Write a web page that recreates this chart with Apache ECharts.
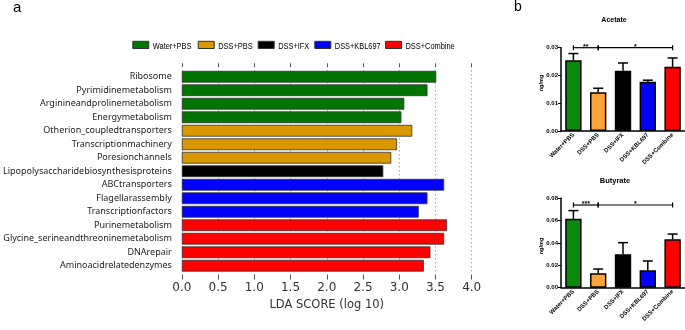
<!DOCTYPE html>
<html>
<head>
<meta charset="utf-8">
<script src="https://cdn.jsdelivr.net/npm/echarts@6/dist/echarts.min.js"></script>
<style>html,body{margin:0;padding:0;background:#fff}#c{width:685px;height:330px}</style>
</head>
<body>
<div id="c"></div>
<script>
// ---------- Panel a data ----------
const features = ['Ribosome','Pyrimidinemetabolism','Arginineandprolinemetabolism','Energymetabolism',
  'Otherion_coupledtransporters','Transcriptionmachinery','Poresionchannels',
  'Lipopolysaccharidebiosynthesisproteins','ABCtransporters','Flagellarassembly','Transcriptionfactors',
  'Purinemetabolism','Glycine_serineandthreoninemetabolism','DNArepair','Aminoacidrelatedenzymes'];
const ldaScores = [3.51, 3.39, 3.07, 3.03, 3.18, 2.97, 2.89, 2.78, 3.62, 3.39, 3.27, 3.66, 3.62, 3.43, 3.34];
const featureGroup = ['Water+PBS','Water+PBS','Water+PBS','Water+PBS','DSS+PBS','DSS+PBS','DSS+PBS',
  'DSS+IFX','DSS+KBL697','DSS+KBL697','DSS+KBL697','DSS+Combine','DSS+Combine','DSS+Combine','DSS+Combine'];
const groupNames = ['Water+PBS','DSS+PBS','DSS+IFX','DSS+KBL697','DSS+Combine'];
const ldaTicks = [0, 0.5, 1.0, 1.5, 2.0, 2.5, 3.0, 3.5, 4.0];

// ---------- Panel b data ----------
const scfaGroups = ['Water+PBS','DSS+PBS','DSS+IFX','DSS+KBL697','DSS+Combine'];
const acetateMean = [0.0255, 0.0140, 0.0217, 0.0177, 0.0231];
const acetateErr  = [0.0024, 0.0014, 0.0028, 0.0006, 0.0032];
const butyrateMean = [0.0616, 0.0130, 0.0299, 0.0156, 0.0433];
const butyrateErr  = [0.0074, 0.0037, 0.0104, 0.0083, 0.0047];
const acetateSigFrom = [0, 1], acetateSigTo = [1, 4], acetateSigLevel = [0.030, 0.030], acetateSigText = ['**', '*'];
const butyrateSigFrom = [0, 1], butyrateSigTo = [1, 4], butyrateSigLevel = [0.074, 0.074], butyrateSigText = ['***', '*'];

// ---------- styles ----------
const colorsA = {'Water+PBS':'#007400','DSS+PBS':'#DA9800','DSS+IFX':'#000000','DSS+KBL697':'#0000FF','DSS+Combine':'#FF0000'};
const colorsB = ['#0A8A0A','#FFA33D','#000000','#0000FF','#FF0000'];
const legendLeft = [132.3, 197.7, 257.7, 314.3, 385];

const chart = echarts.init(document.getElementById('c'), null, {renderer:'canvas'});

const seriesA = groupNames.map(g => ({
  name: g, type: 'bar', stack: 'lda', xAxisIndex: 0, yAxisIndex: 0,
  barWidth: '87%',
  itemStyle: {color: colorsA[g], borderColor: '#333', borderWidth: 0.8},
  data: ldaScores.map((v, i) => featureGroup[i] === g ? v : '-'),
  silent: true, animation: false
}));

function errRender(params, api) {
  const x = api.value(0), m = api.value(1), hi = api.value(2);
  const p0 = api.coord([x, m]), p1 = api.coord([x, hi]);
  const w = 5;
  return {type: 'group', children: [
    {type: 'line', shape: {x1: p0[0], y1: p0[1], x2: p1[0], y2: p1[1]}, style: {stroke: '#000', lineWidth: 1.5}},
    {type: 'line', shape: {x1: p1[0] - w, y1: p1[1], x2: p1[0] + w, y2: p1[1]}, style: {stroke: '#000', lineWidth: 1.5}}
  ]};
}
function makeSigRender(texts) {
  return function (params, api) {
    const a = api.coord([api.value(0), api.value(2)]);
    const b = api.coord([api.value(1), api.value(2)]);
    const t = 2.5;
    return {type: 'group', children: [
      {type: 'line', shape: {x1: a[0], y1: a[1], x2: b[0], y2: b[1]}, style: {stroke: '#000', lineWidth: 1.2}},
      {type: 'line', shape: {x1: a[0], y1: a[1] - t, x2: a[0], y2: a[1] + t}, style: {stroke: '#000', lineWidth: 1.2}},
      {type: 'line', shape: {x1: b[0], y1: b[1] - t, x2: b[0], y2: b[1] + t}, style: {stroke: '#000', lineWidth: 1.2}},
      {type: 'text', x: (a[0] + b[0]) / 2, y: a[1] + 2.5,
        style: {text: texts[params.dataIndex], fill: '#000', font: 'bold 7px "Liberation Sans", Arial', align: 'center', verticalAlign: 'bottom'}}
    ]};
  };
}

function barB(vals, xi, yi) {
  return {type: 'bar', xAxisIndex: xi, yAxisIndex: yi, barWidth: '66%', silent: true, animation: false,
    itemStyle: {borderColor: '#000', borderWidth: 1.5},
    data: vals.map((v, i) => ({value: v, itemStyle: {color: colorsB[i]}}))};
}

const smallAxisLabel = {fontSize: 6, fontWeight: 'bold', color: '#000', fontFamily: '"Liberation Sans", Arial'};

// legend drawn as icon + (horizontally condensed) real text
const legendGraphics = [];
groupNames.forEach((g, i) => {
  legendGraphics.push({type: 'rect', left: legendLeft[i], top: 40.8, silent: true,
    shape: {width: 16, height: 7.2}, style: {fill: colorsA[g], stroke: '#333', lineWidth: 1}});
  legendGraphics.push({type: 'text', x: legendLeft[i] + 20.5, y: 46, scaleX: 0.78, silent: true,
    style: {text: g, font: '9.5px "Liberation Sans", Arial', fill: '#000', align: 'left', verticalAlign: 'middle'}});
});

const option = {
  animation: false,
  backgroundColor: '#fff',
  title: [
    {text: 'a', left: 13, top: 0, padding: 0, textStyle: {fontSize: 15, fontWeight: 'normal', color: '#000', fontFamily: '"Liberation Sans", Arial'}},
    {text: 'b', left: 514, top: 0, padding: 0, textStyle: {fontSize: 14, fontWeight: 'normal', color: '#000', fontFamily: '"Liberation Sans", Arial'}},
    {text: 'Acetate', left: 614, top: 16.5, padding: 0, textAlign: 'center', textStyle: {fontSize: 7, fontWeight: 'bold', color: '#000', fontFamily: '"Liberation Sans", Arial'}},
    {text: 'Butyrate', left: 615, top: 176.5, padding: 0, textAlign: 'center', textStyle: {fontSize: 7.5, fontWeight: 'bold', color: '#000', fontFamily: '"Liberation Sans", Arial'}}
  ],
  grid: [
    {left: 177.3, right: 213.3, top: 70, bottom: 57.5},
    {left: 561, width: 124, top: 47.7, height: 83.3},
    {left: 561, width: 124, top: 198.3, height: 89.4}
  ],
  xAxis: [
    {type: 'value', gridIndex: 0, min: ldaTicks[0], max: ldaTicks[ldaTicks.length - 1], interval: 0.5, offset: 2,
      axisLine: {show: false}, axisTick: {show: true, length: 5, lineStyle: {color: '#555'}},
      axisLabel: {fontSize: 12, color: '#333', fontFamily: '"DejaVu Sans"', margin: 7, formatter: v => v.toFixed(1)},
      splitLine: {show: true, lineStyle: {type: [1.5, 2.5], color: '#aaa', width: 1}},
      name: 'LDA SCORE (log 10)', nameLocation: 'middle', nameGap: 25,
      nameTextStyle: {fontSize: 11.5, color: '#333', fontFamily: '"DejaVu Sans"'}},
    {type: 'value', gridIndex: 0, position: 'top', min: ldaTicks[0], max: ldaTicks[ldaTicks.length - 1], interval: 0.5, offset: 2.7,
      axisLine: {show: false}, axisTick: {show: true, length: 4, lineStyle: {color: '#555'}},
      axisLabel: {show: false}, splitLine: {show: false}},
    {type: 'category', gridIndex: 1, data: scfaGroups,
      axisLine: {lineStyle: {color: '#000', width: 1.5}},
      axisTick: {alignWithLabel: true, length: 2, lineStyle: {color: '#000', width: 1}},
      axisLabel: Object.assign({rotate: 45, interval: 0, margin: 3}, smallAxisLabel)},
    {type: 'category', gridIndex: 2, data: scfaGroups,
      axisLine: {lineStyle: {color: '#000', width: 1.5}},
      axisTick: {alignWithLabel: true, length: 2, lineStyle: {color: '#000', width: 1}},
      axisLabel: Object.assign({rotate: 45, interval: 0, margin: 3}, smallAxisLabel)}
  ],
  yAxis: [
    {type: 'category', gridIndex: 0, inverse: true, data: features,
      axisLine: {show: false}, axisTick: {show: false},
      axisLabel: {fontSize: 9, color: '#222', fontFamily: '"Noto Sans"', margin: 10}},
    {type: 'value', gridIndex: 1, min: 0, max: 0.03, interval: 0.01,
      axisLine: {show: true, lineStyle: {color: '#000', width: 1.5}},
      axisTick: {show: true, length: 3, lineStyle: {color: '#000', width: 1}},
      axisLabel: Object.assign({margin: 3, formatter: v => v.toFixed(2)}, smallAxisLabel),
      splitLine: {show: false}},
    {type: 'value', gridIndex: 2, min: 0, max: 0.08, interval: 0.02,
      axisLine: {show: true, lineStyle: {color: '#000', width: 1.5}},
      axisTick: {show: true, length: 3, lineStyle: {color: '#000', width: 1}},
      axisLabel: Object.assign({margin: 3, formatter: v => v.toFixed(2)}, smallAxisLabel),
      splitLine: {show: false}}
  ],
  graphic: legendGraphics.concat([
    {type: 'text', x: 541, y: 83, rotation: Math.PI / 2,
      style: {text: 'ng/mg', font: 'bold 5.5px "Liberation Sans", Arial', fill: '#000', align: 'center', verticalAlign: 'middle'}},
    {type: 'text', x: 541, y: 246, rotation: Math.PI / 2,
      style: {text: 'ng/mg', font: 'bold 5.5px "Liberation Sans", Arial', fill: '#000', align: 'center', verticalAlign: 'middle'}}
  ]),
  series: seriesA.concat([
    barB(acetateMean, 2, 1),
    barB(butyrateMean, 3, 2),
    {type: 'custom', xAxisIndex: 2, yAxisIndex: 1, z: 5, silent: true, animation: false, renderItem: errRender,
      data: acetateMean.map((m, i) => [i, m, m + acetateErr[i]])},
    {type: 'custom', xAxisIndex: 3, yAxisIndex: 2, z: 5, silent: true, animation: false, renderItem: errRender,
      data: butyrateMean.map((m, i) => [i, m, m + butyrateErr[i]])},
    {type: 'custom', xAxisIndex: 2, yAxisIndex: 1, z: 6, silent: true, animation: false, clip: false,
      renderItem: makeSigRender(acetateSigText),
      data: acetateSigFrom.map((f, i) => [f, acetateSigTo[i], acetateSigLevel[i]])},
    {type: 'custom', xAxisIndex: 3, yAxisIndex: 2, z: 6, silent: true, animation: false, clip: false,
      renderItem: makeSigRender(butyrateSigText),
      data: butyrateSigFrom.map((f, i) => [f, butyrateSigTo[i], butyrateSigLevel[i]])}
  ])
};
chart.setOption(option);
</script>
</body>
</html>
